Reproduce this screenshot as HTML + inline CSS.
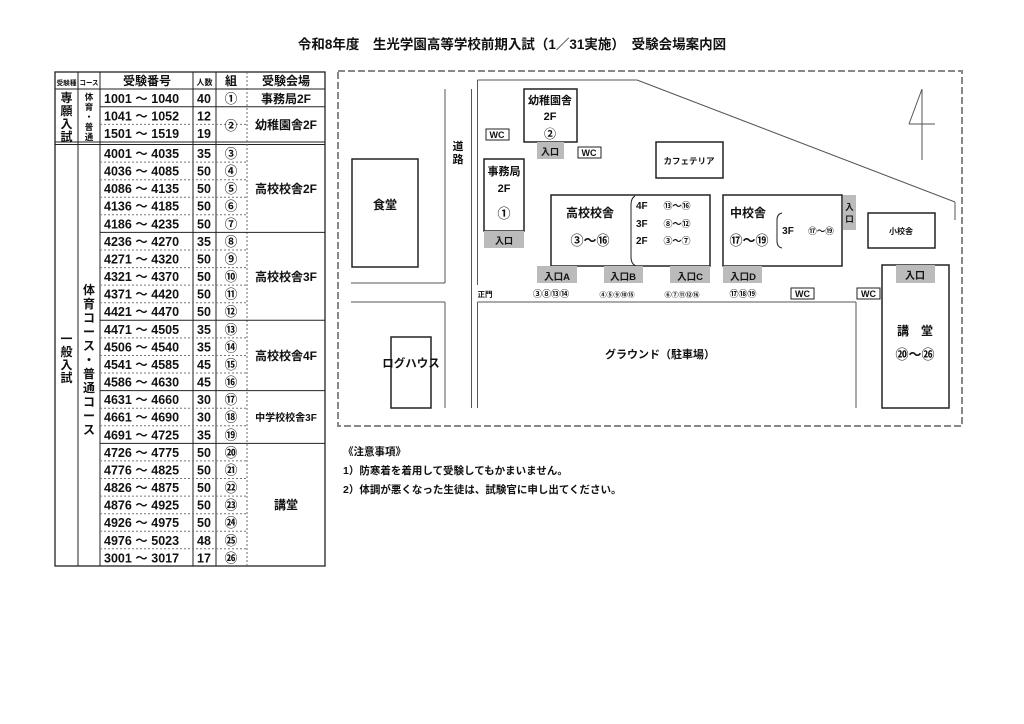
<!DOCTYPE html>
<html><head><meta charset="utf-8"><style>
html,body{margin:0;padding:0;background:#fff;width:1024px;height:724px;overflow:hidden}
svg{display:block}
text{font-family:"Liberation Sans","Noto Sans CJK JP",sans-serif;fill:#111}
</style></head><body>
<svg width="1024" height="724" viewBox="0 0 1024 724" xmlns="http://www.w3.org/2000/svg">
<text x="512" y="49" font-size="13.5" font-weight="bold" text-anchor="middle">令和8年度　生光学園高等学校前期入試（1／31実施）　受験会場案内図</text>

<!-- TABLE -->
<g stroke="#222" fill="none">
<rect x="55" y="72" width="270" height="494" stroke-width="1.3"/>
<line x1="55" y1="89" x2="325" y2="89"/>
<line x1="55" y1="142" x2="325" y2="142"/>
<line x1="55" y1="144.5" x2="325" y2="144.5"/>
<line x1="78" y1="72" x2="78" y2="566"/>
<line x1="100" y1="72" x2="100" y2="566"/>
<line x1="193" y1="72" x2="193" y2="566"/>
<line x1="216" y1="72" x2="216" y2="566"/>
<line x1="247" y1="72" x2="247" y2="566" stroke-dasharray="2,2" stroke="#666"/>
<line x1="100" y1="106.7" x2="325" y2="106.7"/>
<line x1="100" y1="232.4" x2="325" y2="232.4"/>
<line x1="100" y1="320.3" x2="325" y2="320.3"/>
<line x1="100" y1="390.6" x2="325" y2="390.6"/>
<line x1="100" y1="443.4" x2="325" y2="443.4"/>
<g stroke-dasharray="2,2" stroke="#777">
<line x1="100" y1="124.4" x2="247" y2="124.4"/>
<line x1="100" y1="162.1" x2="247" y2="162.1"/>
<line x1="100" y1="179.7" x2="247" y2="179.7"/>
<line x1="100" y1="197.2" x2="247" y2="197.2"/>
<line x1="100" y1="214.8" x2="247" y2="214.8"/>
<line x1="100" y1="250.0" x2="247" y2="250.0"/>
<line x1="100" y1="267.6" x2="247" y2="267.6"/>
<line x1="100" y1="285.1" x2="247" y2="285.1"/>
<line x1="100" y1="302.7" x2="247" y2="302.7"/>
<line x1="100" y1="337.9" x2="247" y2="337.9"/>
<line x1="100" y1="355.5" x2="247" y2="355.5"/>
<line x1="100" y1="373.0" x2="247" y2="373.0"/>
<line x1="100" y1="408.2" x2="247" y2="408.2"/>
<line x1="100" y1="425.8" x2="247" y2="425.8"/>
<line x1="100" y1="460.9" x2="247" y2="460.9"/>
<line x1="100" y1="478.5" x2="247" y2="478.5"/>
<line x1="100" y1="496.1" x2="247" y2="496.1"/>
<line x1="100" y1="513.7" x2="247" y2="513.7"/>
<line x1="100" y1="531.3" x2="247" y2="531.3"/>
<line x1="100" y1="548.8" x2="247" y2="548.8"/>
</g>
</g>
<g font-weight="bold">
<text x="66.5" y="85" font-size="6.5" text-anchor="middle" textLength="20" lengthAdjust="spacingAndGlyphs">受験種</text>
<text x="89" y="85" font-size="7" text-anchor="middle" textLength="19" lengthAdjust="spacingAndGlyphs">コース</text>
<text x="147" y="85" font-size="12" text-anchor="middle">受験番号</text>
<text x="204.5" y="85" font-size="8" text-anchor="middle">人数</text>
<text x="231" y="85" font-size="12" text-anchor="middle">組</text>
<text x="286" y="85" font-size="12" text-anchor="middle">受験会場</text>

<g font-size="12" text-anchor="middle">
<text x="66.5" y="102">専</text><text x="66.5" y="115">願</text><text x="66.5" y="128">入</text><text x="66.5" y="141">試</text>
<text x="66.5" y="343">一</text><text x="66.5" y="356">般</text><text x="66.5" y="369">入</text><text x="66.5" y="382">試</text>
</g>
<g font-size="8.5" text-anchor="middle">
<text x="89" y="100">体</text><text x="89" y="110">育</text><text x="89" y="120">・</text><text x="89" y="130">普</text><text x="89" y="140">通</text>
</g>
<g font-size="12" text-anchor="middle">
<text x="89" y="294">体</text><text x="89" y="308">育</text><text x="89" y="322">コ</text><text x="89" y="336">ー</text><text x="89" y="350">ス</text><text x="89" y="364">・</text><text x="89" y="378">普</text><text x="89" y="392">通</text><text x="89" y="406">コ</text><text x="89" y="420">ー</text><text x="89" y="434">ス</text>
</g>

<g font-size="12.5">
<text x="104" y="103">1001 ～ 1040</text><text x="197" y="103">40</text><text x="231" y="103" text-anchor="middle">①</text>
<text x="104" y="120.5">1041 ～ 1052</text><text x="197" y="120.5">12</text>
<text x="104" y="138">1501 ～ 1519</text><text x="197" y="138">19</text><text x="231" y="130" text-anchor="middle">②</text>
<text x="104" y="158">4001 ～ 4035</text><text x="197" y="158">35</text><text x="231" y="158" text-anchor="middle">③</text>
<text x="104" y="175.6">4036 ～ 4085</text><text x="197" y="175.6">50</text><text x="231" y="175.6" text-anchor="middle">④</text>
<text x="104" y="193.2">4086 ～ 4135</text><text x="197" y="193.2">50</text><text x="231" y="193.2" text-anchor="middle">⑤</text>
<text x="104" y="210.7">4136 ～ 4185</text><text x="197" y="210.7">50</text><text x="231" y="210.7" text-anchor="middle">⑥</text>
<text x="104" y="228.3">4186 ～ 4235</text><text x="197" y="228.3">50</text><text x="231" y="228.3" text-anchor="middle">⑦</text>
<text x="104" y="245.9">4236 ～ 4270</text><text x="197" y="245.9">35</text><text x="231" y="245.9" text-anchor="middle">⑧</text>
<text x="104" y="263.5">4271 ～ 4320</text><text x="197" y="263.5">50</text><text x="231" y="263.5" text-anchor="middle">⑨</text>
<text x="104" y="281.1">4321 ～ 4370</text><text x="197" y="281.1">50</text><text x="231" y="281.1" text-anchor="middle">⑩</text>
<text x="104" y="298.6">4371 ～ 4420</text><text x="197" y="298.6">50</text><text x="231" y="298.6" text-anchor="middle">⑪</text>
<text x="104" y="316.2">4421 ～ 4470</text><text x="197" y="316.2">50</text><text x="231" y="316.2" text-anchor="middle">⑫</text>
<text x="104" y="333.8">4471 ～ 4505</text><text x="197" y="333.8">35</text><text x="231" y="333.8" text-anchor="middle">⑬</text>
<text x="104" y="351.4">4506 ～ 4540</text><text x="197" y="351.4">35</text><text x="231" y="351.4" text-anchor="middle">⑭</text>
<text x="104" y="369">4541 ～ 4585</text><text x="197" y="369">45</text><text x="231" y="369" text-anchor="middle">⑮</text>
<text x="104" y="386.5">4586 ～ 4630</text><text x="197" y="386.5">45</text><text x="231" y="386.5" text-anchor="middle">⑯</text>
<text x="104" y="404.1">4631 ～ 4660</text><text x="197" y="404.1">30</text><text x="231" y="404.1" text-anchor="middle">⑰</text>
<text x="104" y="421.7">4661 ～ 4690</text><text x="197" y="421.7">30</text><text x="231" y="421.7" text-anchor="middle">⑱</text>
<text x="104" y="439.3">4691 ～ 4725</text><text x="197" y="439.3">35</text><text x="231" y="439.3" text-anchor="middle">⑲</text>
<text x="104" y="456.9">4726 ～ 4775</text><text x="197" y="456.9">50</text><text x="231" y="456.9" text-anchor="middle">⑳</text>
<text x="104" y="474.4">4776 ～ 4825</text><text x="197" y="474.4">50</text><text x="231" y="474.4" text-anchor="middle">㉑</text>
<text x="104" y="492">4826 ～ 4875</text><text x="197" y="492">50</text><text x="231" y="492" text-anchor="middle">㉒</text>
<text x="104" y="509.6">4876 ～ 4925</text><text x="197" y="509.6">50</text><text x="231" y="509.6" text-anchor="middle">㉓</text>
<text x="104" y="527.2">4926 ～ 4975</text><text x="197" y="527.2">50</text><text x="231" y="527.2" text-anchor="middle">㉔</text>
<text x="104" y="544.8">4976 ～ 5023</text><text x="197" y="544.8">48</text><text x="231" y="544.8" text-anchor="middle">㉕</text>
<text x="104" y="562.3">3001 ～ 3017</text><text x="197" y="562.3">17</text><text x="231" y="562.3" text-anchor="middle">㉖</text>
</g>
</g>
<g font-size="12" font-weight="bold" text-anchor="middle">
<text x="286" y="103">事務局2F</text>
<text x="286" y="129">幼稚園舎2F</text>
<text x="286" y="193">高校校舎2F</text>
<text x="286" y="281">高校校舎3F</text>
<text x="286" y="360">高校校舎4F</text>
<text x="286" y="421" font-size="10">中学校校舎3F</text>
<text x="286" y="509">講堂</text>
</g>

<!-- MAP -->
<g fill="none" stroke="#888">
<rect x="338" y="71" width="624" height="355" stroke-width="2" stroke-dasharray="7,3"/>
</g>
<g fill="none" stroke="#555" stroke-width="1">
<line x1="445" y1="89" x2="445" y2="283"/>
<line x1="351" y1="283" x2="445" y2="283"/>
<line x1="351" y1="302" x2="445" y2="302"/>
<line x1="445" y1="302" x2="445" y2="408"/>
<line x1="471.5" y1="89" x2="471.5" y2="408"/>
<line x1="477.5" y1="80" x2="477.5" y2="285"/>
<line x1="477.5" y1="302" x2="477.5" y2="408"/>
<line x1="477.5" y1="80" x2="637" y2="80"/>
<line x1="637" y1="80" x2="955" y2="202"/>
<line x1="955" y1="202" x2="955" y2="220"/>
<line x1="477.5" y1="302" x2="856" y2="302"/>
<line x1="856" y1="302" x2="856" y2="408"/>
<line x1="922" y1="89" x2="922" y2="160"/>
<line x1="922" y1="89" x2="909" y2="124"/>
<line x1="909" y1="124" x2="935" y2="124"/>
</g>
<g fill="#fff" stroke="#222" stroke-width="1.5">
<rect x="352" y="159" width="66" height="108"/>
<rect x="524" y="89" width="53" height="53"/>
<rect x="484" y="159" width="40" height="72"/>
<rect x="656" y="142" width="67" height="36"/>
<rect x="551" y="195" width="159" height="71"/>
<rect x="723" y="195" width="119" height="71"/>
<rect x="868" y="213" width="67" height="35"/>
<rect x="882" y="265" width="67" height="143"/>
<rect x="391" y="337" width="40" height="71"/>
</g>
<g fill="none" stroke="#222" stroke-width="1">
<path d="M635 196 Q631 198 631 205 L631 257 Q631 264 636 266"/>
<path d="M782 213 Q777 214 777 220 L777 241 Q777 247 782 248"/>
</g>
<g fill="#bbb">
<rect x="537" y="142" width="27" height="17"/>
<rect x="484" y="231" width="40" height="17"/>
<rect x="843" y="195" width="13" height="35"/>
<rect x="896" y="265" width="39" height="18"/>
<rect x="537" y="266" width="40" height="17"/>
<rect x="604" y="266" width="39" height="17"/>
<rect x="670" y="266" width="40" height="17"/>
<rect x="723" y="266" width="39" height="17"/>
</g>
<g fill="#fff" stroke="#222" stroke-width="1">
<rect x="486" y="129" width="23" height="11"/>
<rect x="578" y="147" width="23" height="11"/>
<rect x="791" y="288" width="23" height="11"/>
<rect x="857" y="288" width="23" height="11"/>
</g>
<g font-weight="bold" text-anchor="middle">
<text x="385" y="209" font-size="12">食堂</text>
<text x="458" y="150" font-size="11">道</text><text x="458" y="163" font-size="11">路</text>
<text x="550" y="104" font-size="11">幼稚園舎</text>
<text x="550" y="120" font-size="11">2F</text>
<text x="550" y="138" font-size="12">②</text>
<text x="550" y="155" font-size="9">入口</text>
<text x="497" y="138" font-size="9">WC</text>
<text x="589" y="156" font-size="9">WC</text>
<text x="504" y="175" font-size="11">事務局</text>
<text x="504" y="192" font-size="11">2F</text>
<text x="504" y="218" font-size="13">①</text>
<text x="504" y="244" font-size="9">入口</text>
<text x="689" y="164" font-size="8.5">カフェテリア</text>
<text x="590" y="217" font-size="12">高校校舎</text>
<text x="590" y="245" font-size="13">③～⑯</text>
<text x="636" y="209" font-size="10" text-anchor="start">4F</text>
<text x="636" y="227" font-size="10" text-anchor="start">3F</text>
<text x="636" y="244" font-size="10" text-anchor="start">2F</text>
<text x="677" y="209" font-size="9">⑬～⑯</text>
<text x="677" y="227" font-size="9">⑧～⑫</text>
<text x="677" y="244" font-size="9">③～⑦</text>
<text x="748" y="217" font-size="12">中校舎</text>
<text x="749" y="245" font-size="13">⑰～⑲</text>
<text x="788" y="234" font-size="10">3F</text>
<text x="821" y="234" font-size="8.5">⑰～⑲</text>
<text x="849.5" y="210" font-size="8.5">入</text><text x="849.5" y="222" font-size="8.5">口</text>
<text x="901" y="234" font-size="8">小校舎</text>
<text x="915" y="279" font-size="10">入口</text>
<text x="915" y="335" font-size="12">講　堂</text>
<text x="915" y="359" font-size="13">⑳～㉖</text>
<text x="557" y="280" font-size="9.5">入口A</text>
<text x="623" y="280" font-size="9.5">入口B</text>
<text x="690" y="280" font-size="9.5">入口C</text>
<text x="743" y="280" font-size="9.5">入口D</text>
<text x="485" y="297" font-size="7.5">正門</text>
<text x="551" y="297" font-size="9">③⑧⑬⑭</text>
<text x="617" y="297" font-size="7">④⑤⑨⑩⑮</text>
<text x="682" y="297" font-size="7">⑥⑦⑪⑫⑯</text>
<text x="743" y="297" font-size="9">⑰⑱⑲</text>
<text x="802.5" y="297" font-size="9">WC</text>
<text x="868.5" y="297" font-size="9">WC</text>
<text x="411" y="367" font-size="11.5">ログハウス</text>
<text x="660" y="358" font-size="11">グラウンド（駐車場）</text>
</g>

<g font-weight="bold" font-size="10.5">
<text x="343" y="455">《注意事項》</text>
<text x="343" y="474">1）防寒着を着用して受験してもかまいません。</text>
<text x="343" y="493">2）体調が悪くなった生徒は、試験官に申し出てください。</text>
</g>
</svg>
</body></html>
